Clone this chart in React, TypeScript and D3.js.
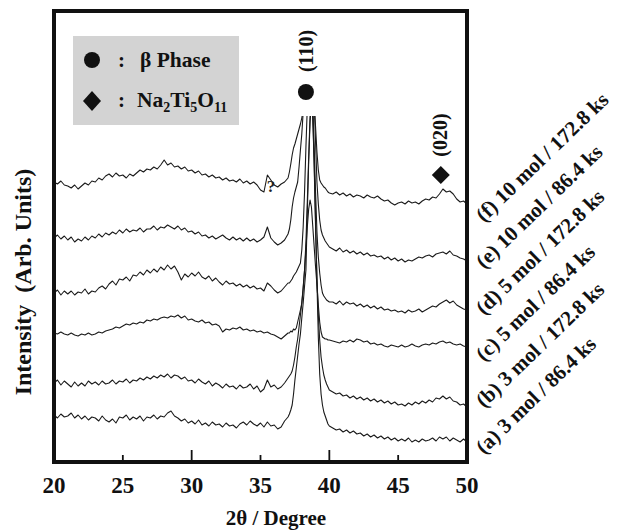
import React from "react";
import * as d3 from "d3";

// 2θ grid pieces (degrees): coarse baseline, fine peak region, coarse tail
const leftGrid = d3.range(69).map((i) => 20 + i * 0.25);
const peakGrid = d3.range(1, 31).map((i) => 37 + i * 0.1);
const rightGrid = d3.range(1, 41).map((i) => 40 + i * 0.25);

const xTicks = [20, 25, 30, 35, 40, 45, 50];
const majorTicks = [30, 40];
const minorTicks = [25, 35, 45];

const sampleLabels = [
  "(a) 3 mol / 86.4 ks",
  "(b) 3 mol / 172.8 ks",
  "(c) 5 mol / 86.4 ks",
  "(d) 5 mol / 172.8 ks",
  "(e) 10 mol / 86.4 ks",
  "(f) 10 mol / 172.8 ks",
];
const offsets = [20, 55, 115, 150, 200, 260];

// (a)
const aLeft = [27,24,28,25, 26,29,24,27, 23,26,22,25, 24,21,26,22, 20,23,19,25, 24,27,22,25, 23,26,21,25, 24,27,23,26, 25,29,31,26, 24,21,23,19, 21,18,22,17, 19,16,20,17, 18,15,19,16, 17,14,18,20, 17,21,18,16, 19,15,20,16, 17,13,15,21, 25];
const aPeak = [28,32,37,48,62,74,86,98,108,124,139,156,172,230,280,320,340,325,280,220,160,105,68,48,37,30,26,22,18,16];
const aRight = [14,12,13,10, 12,9,11,8, 9,6,8,5, 7,4,6,3, 5,2,4,1, 3,1,4,0, 2,0,3,1, 2,4,1,5, 3,5,1,4, 2,0,3,0];
// (b)
const bLeft = [24,27,22,26, 23,20,25,21, 24,21,26,23, 25,22,26,23, 24,27,23,26, 25,28,24,27, 26,29,27,30, 28,31,29,32, 30,33,29,32, 31,28,30,26, 27,24,28,25, 23,26,21,24, 22,19,23,20, 21,18,22,19, 20,23,18,21, 15,18,27,20, 22,18,20,24, 29];
const bPeak = [31,33,36,42,50,60,68,80,92,104,120,137,165,205,250,290,305,290,240,180,130,92,67,50,40,32,27,23,20,17];
const bRight = [15,13,14,11, 12,9,11,8, 10,7,9,6, 8,5,7,4, 6,3,5,2, 3,1,4,2, 5,3,6,4, 7,5,9,8, 11,8,10,6, 5,2,3,0];
// (c)
const cLeft = [14,13,15,13, 12,14,12,11, 13,12,14,12, 13,15,14,16, 17,18,20,19, 21,23,22,24, 23,25,24,27, 26,28,27,29, 30,29,31,30, 32,29,31,27, 28,26,25,27, 24,25,22,23, 21,15,18,17, 19,18,20,17, 18,16,17,15, 16,14,15,13, 12,10,8,11, 14];
const cPeak = [14,16,15,18,17,19,25,31,37,44,58,77,98,120,138,147,140,120,100,80,62,42,25,15,10,9,8,8,7,7];
const cRight = [6,5,4,6, 5,7,5,8, 7,5,6,3, 4,2,3,1, 0,2,1,0, 2,0,1,3, 1,0,2,3, 2,4,3,5, 6,4,5,3, 2,3,1,0];
// (d)
const dLeft = [19,22,17,21, 18,21,17,20, 19,23,18,21, 20,24,26,23, 28,31,27,33, 32,35,31,37, 36,40,37,42, 39,43,40,45, 42,47,43,46, 40,32,38,35, 39,36,40,35, 33,36,31,34, 30,27,31,28, 29,26,28,25, 27,24,26,23, 24,21,29,26, 22,19,21,25, 29];
const dPeak = [29,31,33,36,38,40,43,46,49,62,85,120,165,205,235,245,235,205,165,120,80,55,39,27,19,16,14,12,11,10];
const dRight = [10,8,11,7, 10,8,9,6, 8,5,7,4, 6,3,5,2, 3,1,2,0, 1,-1,2,0, 1,3,0,2, 4,6,5,8, 10,12,9,11, 7,5,3,2];
// (e)
const eLeft = [24,27,23,26, 22,25,20,23, 21,25,22,26, 24,28,25,29, 27,30,28,32, 29,33,30,32, 31,34,30,33, 33,36,32,35, 34,37,35,33, 36,32,34,30, 31,28,30,26, 27,24,26,23, 25,27,24,22, 25,22,24,21, 24,21,23,20, 22,25,35,24, 20,17,19,22, 28];
const ePeak = [33,42,55,64,70,75,80,95,112,128,150,185,230,270,290,280,250,205,160,120,80,58,42,32,27,24,21,19,17,15];
const eRight = [13,11,14,10, 12,9,11,8, 10,7,9,6, 7,5,6,3, 5,2,4,1, 3,0,2,1, 3,5,4,6, 7,5,8,9, 10,8,11,7, 6,4,3,1];
// (f)
const fLeft = [20,18,21,17, 16,14,17,13, 16,19,17,21, 20,24,22,26, 28,25,29,26, 27,24,28,26, 29,32,30,33, 32,35,33,37, 42,37,39,35, 36,33,35,31, 32,29,31,27, 28,25,27,24, 25,22,24,21, 22,20,23,19, 21,18,20,17, 12,10,27,22, 17,15,18,20, 24];
const fPeak = [30,38,47,54,58,63,68,73,78,84,92,120,170,220,240,230,190,140,100,75,50,32,22,19,17,15,14,12,10,9];
const fRight = [8,10,7,9, 6,8,5,7, 6,4,7,5, 4,6,3,1, 2,-1,-3,-1, 0,-2,1,-1, 0,-2,1,3, 2,5,4,8, 13,10,11,8, 3,0,1,-2];

const leftSets = [aLeft, bLeft, cLeft, dLeft, eLeft, fLeft];
const peakSets = [aPeak, bPeak, cPeak, dPeak, ePeak, fPeak];
const rightSets = [aRight, bRight, cRight, dRight, eRight, fRight];

const W = 623;
const H = 530;
const FRAME = { left: 54, right: 467, top: 11, bottom: 462 };
const FONT = "'Liberation Serif', 'Times New Roman', Times, serif";

export default function App() {
  const x = d3.scaleLinear().domain([20, 50]).range([FRAME.left, FRAME.right]);
  const y = d3.scaleLinear().domain([0, 450]).range([FRAME.bottom, FRAME.bottom - 450]);
  const grid = [...leftGrid, ...peakGrid, ...rightGrid];

  const line = d3
    .line<[number, number]>()
    .x((d) => x(d[0]))
    .y((d) => y(d[1]));

  const paths = offsets.map((off, k) => {
    const vals = [...leftSets[k], ...peakSets[k], ...rightSets[k]];
    const pts: [number, number][] = grid.map((g, i) => [g, off + vals[i]]);
    return line(pts) || "";
  });

  const labelStartY = 455;
  const labelStep = 46.4;

  return (
    <svg
      width={W}
      height={H}
      viewBox={`0 0 ${W} ${H}`}
      style={{ position: "absolute", left: 0, top: 0, background: "#fff" }}
      fontFamily={FONT}
      fontWeight="bold"
    >
      <defs>
        <clipPath id="plotClip">
          <rect x={FRAME.left} y={116} width={FRAME.right - FRAME.left} height={FRAME.bottom - 116} />
        </clipPath>
      </defs>

      {/* legend box */}
      <rect x={73} y={36} width={166} height={89} fill="#d3d3d3" />
      <circle cx={92} cy={60} r={8} fill="#111" />
      <text x={118} y={67} fontSize={21} fill="#111">:</text>
      <text x={140} y={67} fontSize={21.5} fill="#111">β Phase</text>
      <path d="M92,91 L101,101 L92,111 L83,101 Z" fill="#111" />
      <text x={118} y={107} fontSize={21} fill="#111">:</text>
      <text x={137} y={107} fontSize={21.5} fill="#111">
        Na<tspan fontSize={14} dy={5}>2</tspan>
        <tspan dy={-5}>Ti</tspan>
        <tspan fontSize={14} dy={5}>5</tspan>
        <tspan dy={-5}>O</tspan>
        <tspan fontSize={14} dy={5}>11</tspan>
      </text>

      {/* traces */}
      <g clipPath="url(#plotClip)">
        {paths.map((d, i) => (
          <path key={i} d={d} fill="none" stroke="#1a1a1a" strokeWidth={1.1} strokeLinejoin="round" />
        ))}
      </g>

      {/* question mark annotation */}
      <text x={271} y={192} fontSize={17} fill="#222" textAnchor="middle">?</text>

      {/* peak markers */}
      <circle cx={x(38.3)} cy={92} r={8} fill="#111" />
      <text
        transform={`translate(${x(38.3) + 7},51) rotate(-90)`}
        fontSize={20}
        textAnchor="middle"
        fill="#111"
      >
        (110)
      </text>
      <path
        d={`M${x(48.1)},166 L${x(48.1) + 9},175 L${x(48.1)},184 L${x(48.1) - 9},175 Z`}
        fill="#111"
      />
      <text
        transform={`translate(${x(48.1) + 6},135) rotate(-90)`}
        fontSize={20}
        textAnchor="middle"
        fill="#111"
      >
        (020)
      </text>

      {/* frame */}
      <rect
        x={FRAME.left}
        y={FRAME.top}
        width={FRAME.right - FRAME.left}
        height={FRAME.bottom - FRAME.top}
        fill="none"
        stroke="#111"
        strokeWidth={4}
      />

      {/* ticks */}
      {majorTicks.map((t) => (
        <line key={"M" + t} x1={x(t)} x2={x(t)} y1={FRAME.bottom} y2={FRAME.bottom - 12} stroke="#111" strokeWidth={1.8} />
      ))}
      {minorTicks.map((t) => (
        <line key={"m" + t} x1={x(t)} x2={x(t)} y1={FRAME.bottom} y2={FRAME.bottom - 7} stroke="#111" strokeWidth={1.8} />
      ))}
      {xTicks.map((t) => (
        <text key={t} x={x(t)} y={493} fontSize={23} textAnchor="middle" fill="#111">
          {t}
        </text>
      ))}

      {/* axis titles */}
      <text x={276} y={525} fontSize={21} textAnchor="middle" fill="#111">
        2θ / Degree
      </text>
      <text
        transform="translate(31,282) rotate(-90)"
        fontSize={24}
        textAnchor="middle"
        fill="#111"
        xmlSpace="preserve"
      >
        Intensity  (Arb. Units)
      </text>

      {/* sample labels */}
      {sampleLabels.map((s, i) => (
        <text
          key={s}
          transform={`translate(484,${labelStartY - i * labelStep}) rotate(-44)`}
          fontSize={21}
          fill="#111"
        >
          {s}
        </text>
      ))}
    </svg>
  );
}
